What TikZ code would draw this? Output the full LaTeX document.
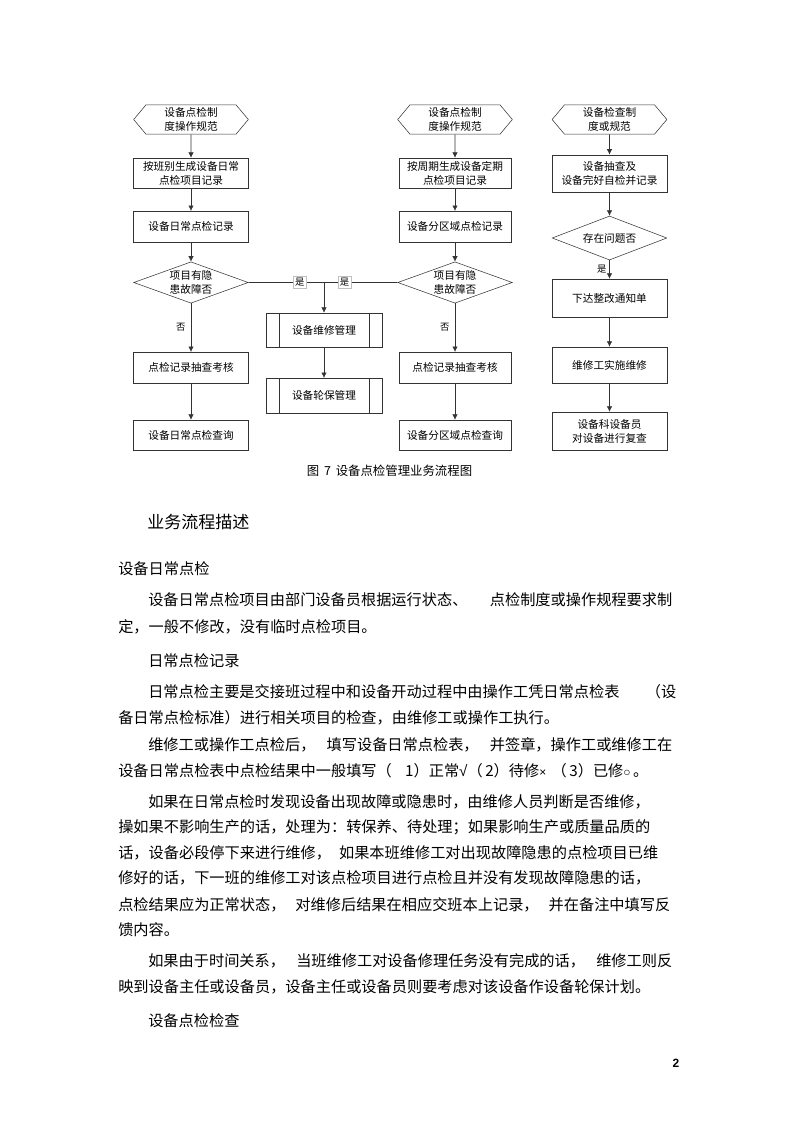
\documentclass[tikz,border=0pt]{standalone}
\usepackage{fontspec}
\setmainfont{Noto Sans CJK SC}
\newfontfamily\numfont{Liberation Sans}
\usetikzlibrary{shapes.geometric,shapes.symbols,arrows.meta}

\tikzset{
	box/.style={draw=black!80, rectangle, minimum width=86pt, minimum height=23pt, align=center, inner sep=1pt, font=\fontsize{8}{10.5}\selectfont},
	prep/.style={draw=black!80, signal, signal to=east and west, signal pointer angle=100, minimum width=86pt, minimum height=22pt, inner sep=0pt, align=center, font=\fontsize{8}{10.5}\selectfont},
	test/.style={draw=black!80, diamond, aspect=2.8, minimum width=86pt, minimum height=31pt, inner sep=0pt, align=center, font=\fontsize{8}{10.5}\selectfont},
	proc/.style={box, path picture={\draw[black!80] ([xshift=9.75pt]path picture bounding box.north west) -- ([xshift=9.75pt]path picture bounding box.south west) ([xshift=-9.75pt]path picture bounding box.north east) -- ([xshift=-9.75pt]path picture bounding box.south east);}},
	arr/.style={draw=black!80, -{Latex[length=4pt,width=4pt]}},
	lab/.style={font=\fontsize{7}{8}\selectfont, inner sep=1pt},
	yes/.style={lab, draw=black!25, fill=white, inner sep=1.5pt},
	body/.style={anchor=west, inner sep=0pt, font=\fontsize{11.4}{14}\selectfont},
	head/.style={anchor=west, inner sep=0pt, font=\fontsize{12.75}{15}\selectfont},
}

\begin{document}
\begin{tikzpicture}[x=0.75pt, y=-0.75pt]
	\useasboundingbox (0,0) rectangle (800,1133);
	% left column
	\node[prep] (hexA) at (191, 119.5) {设备点检制\\度操作规范};
	\node[box, minimum height=22.5pt] (recA) at (191, 173) {按班别生成设备日常\\点检项目记录};
	\node[box] (logA) at (191, 226.5) {设备日常点检记录};
	\node[test] (diaA) at (191, 282.5) {项目有隐\\患故障否};
	\node[box] (chkA) at (191, 367.5) {点检记录抽查考核};
	\node[box, minimum height=22.5pt] (qryA) at (191, 435) {设备日常点检查询};
	% middle column
	\node[prep] (hexB) at (455, 119.5) {设备点检制\\度操作规范};
	\node[box, minimum width=84pt, minimum height=22.5pt] (recB) at (455, 173) {按周期生成设备定期\\点检项目记录};
	\node[box, minimum width=84pt] (logB) at (455, 226.5) {设备分区域点检记录};
	\node[test] (diaB) at (455, 282.5) {项目有隐\\患故障否};
	\node[box, minimum width=84pt] (chkB) at (455, 367.5) {点检记录抽查考核};
	\node[box, minimum width=84pt, minimum height=22.5pt] (qryB) at (455, 435) {设备分区域点检查询};
	% repair
	\coordinate (jn) at (324, 282.5);
	\node[proc, minimum width=87pt, minimum height=25.5pt] (repair) at (324, 330) {设备维修管理};
	\node[proc, minimum width=87pt, minimum height=26pt] (rotate) at (324, 395.5) {设备轮保管理};
	% right column
	\node[prep] (hexC) at (609.5, 119.5) {设备检查制\\度或规范};
	\node[box, minimum height=28pt] (spot) at (609.5, 173.5) {设备抽查及\\设备完好自检并记录};
	\node[test, minimum height=33pt] (diaC) at (609.5, 238) {存在问题否};
	\node[box, minimum height=28.5pt] (notice) at (609.5, 298) {下达整改通知单};
	\node[box, minimum height=27pt] (exec) at (609.5, 365) {维修工实施维修};
	\node[box, minimum height=28.5pt] (review) at (609.5, 431) {设备科设备员\\对设备进行复查};

	\draw[arr] (hexA) -- (recA);
	\draw[arr] (recA) -- (logA);
	\draw[arr] (logA) -- (diaA);
	\draw[arr] (diaA) -- node[lab, left=3pt] (noA) {否} (chkA);
	\draw[arr] (chkA) -- (qryA);
	\draw[arr] (hexB) -- (recB);
	\draw[arr] (recB) -- (logB);
	\draw[arr] (logB) -- (diaB);
	\draw[arr] (diaB) -- node[lab, left=3pt] (noB) {否} (chkB);
	\draw[arr] (chkB) -- (qryB);
	\draw[draw=black!80] (diaA.east) -- node[yes, pos=0.68] (yesA) {是} (jn) -- node[yes, pos=0.28] (yesB) {是} (diaB.west);
	\draw[arr] (jn) -- (repair);
	\draw[arr] (repair) -- (rotate);
	\draw[arr] (hexC) -- (spot);
	\draw[arr] (spot) -- (diaC);
	\draw[arr] (diaC) -- node[lab, left=1pt] (yesC) {是} (notice);
	\draw[arr] (notice) -- (exec);
	\draw[arr] (exec) -- (review);

	\node[font=\fontsize{9.3}{11}\selectfont, inner sep=0pt] (cap) at (389.5, 471) {图\ \,7\ \,设备点检管理业务流程图};

	% text
	\node[head] (title) at (147, 522) {业务流程描述};
	\node[body] (s1) at (118, 569) {设备日常点检};
	\node[body] (p1a) at (148, 600) {\makebox[393pt][l]{设备日常点检项目由部门设备员根据运行状态、\hfill 点检制度或操作规程要求制}};
	\node[body] (p1b) at (118, 627) {定，一般不修改，没有临时点检项目。};
	\node[body] (s2) at (148, 661) {日常点检记录};
	\node[body] (p2a) at (148, 692) {\makebox[396pt][l]{日常点检主要是交接班过程中和设备开动过程中由操作工凭日常点检表\hfill（设}};
	\node[body] (p2b) at (118, 718) {备日常点检标准）进行相关项目的检查，由维修工或操作工执行。};
	\node[body] (p3a) at (148, 745) {\makebox[393pt][l]{维修工或操作工点检后，\hfill 填写设备日常点检表，\hfill 并签章，操作工或维修工在}};
	\node[body] (p3b) at (118, 771) {设备日常点检表中点检结果中一般填写（\hspace{10pt}1）正常{\numfont √}（\,2）待修{\numfont\small ×}\hspace{4pt}（\,3）已修{\numfont\small ○}\,。};
	\node[body] (p4a) at (148, 802) {如果在日常点检时发现设备出现故障或隐患时，由维修人员判断是否维修，};
	\node[body] (p4b) at (118, 827) {操如果不影响生产的话，处理为：转保养、待处理；如果影响生产或质量品质的};
	\node[body] (p4c) at (118, 853) {话，设备必段停下来进行维修，\hspace{6pt}如果本班维修工对出现故障隐患的点检项目已维};
	\node[body] (p4d) at (118, 878) {修好的话，下一班的维修工对该点检项目进行点检且并没有发现故障隐患的话，};
	\node[body] (p4e) at (118, 905) {\makebox[414pt][l]{点检结果应为正常状态，\hfill 对维修后结果在相应交班本上记录，\hfill 并在备注中填写反}};
	\node[body] (p4f) at (118, 930) {馈内容。};
	\node[body] (p5a) at (148, 961) {\makebox[393pt][l]{如果由于时间关系，\hfill 当班维修工对设备修理任务没有完成的话，\hfill 维修工则反}};
	\node[body] (p5b) at (118, 987) {映到设备主任或设备员，设备主任或设备员则要考虑对该设备作设备轮保计划。};
	\node[body] (s3) at (148, 1021) {设备点检检查};
	\node[font=\numfont\bfseries\fontsize{9}{10}\selectfont, inner sep=0pt] (page) at (676, 1063) {2};
\end{tikzpicture}
\end{document}
